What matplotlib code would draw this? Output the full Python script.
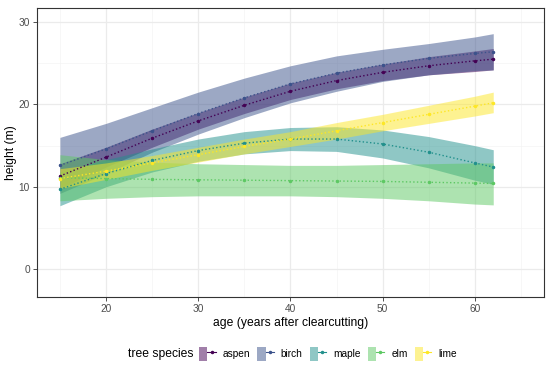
import matplotlib
matplotlib.use("Agg")
import matplotlib.pyplot as plt
from matplotlib.patches import Patch
from matplotlib.lines import Line2D
from matplotlib.legend_handler import HandlerTuple

plt.rcParams['font.family'] = ['Liberation Sans', 'DejaVu Sans']

# values
ages = [15, 20, 25, 30, 35, 40, 45, 50, 55, 60, 62]
species = ['aspen', 'birch', 'maple', 'elm', 'lime']
colors = ['#440154', '#3B528B', '#21908C', '#5DC863', '#FDE725']

aspen_fit = [11.3, 13.6, 15.9, 18.0, 19.9, 21.6, 22.9, 23.9, 24.7, 25.3, 25.5]
aspen_lo = [9.8, 12.4, 14.8, 17.0, 18.9, 20.6, 21.9, 22.9, 23.6, 24.0, 24.2]
aspen_hi = [12.8, 14.8, 17.0, 19.0, 20.9, 22.6, 23.9, 24.9, 25.8, 26.5, 26.8]

birch_fit = [12.6, 14.6, 16.8, 18.9, 20.8, 22.5, 23.8, 24.8, 25.6, 26.2, 26.4]
birch_lo = [9.2, 11.6, 14.2, 16.4, 18.4, 20.2, 21.6, 22.8, 23.6, 24.1, 24.2]
birch_hi = [16.0, 17.7, 19.6, 21.5, 23.2, 24.7, 25.9, 26.7, 27.4, 28.2, 28.6]

maple_fit = [9.7, 11.6, 13.2, 14.4, 15.3, 15.8, 15.8, 15.2, 14.2, 12.9, 12.4]
maple_lo = [7.7, 10.0, 11.8, 13.1, 14.0, 14.4, 14.3, 13.5, 12.3, 10.8, 10.3]
maple_hi = [11.8, 13.3, 14.6, 15.8, 16.7, 17.2, 17.3, 16.9, 16.1, 15.0, 14.5]

elm_fit = [11.1, 11.0, 10.9, 10.85, 10.8, 10.75, 10.7, 10.65, 10.55, 10.45, 10.4]
elm_lo = [8.3, 8.6, 8.8, 8.9, 8.9, 8.9, 8.8, 8.6, 8.3, 7.9, 7.8]
elm_hi = [13.9, 13.3, 13.0, 12.8, 12.7, 12.6, 12.6, 12.7, 12.8, 12.9, 12.9]

lime_fit = [11.0, 11.9, 12.9, 13.9, 14.9, 15.8, 16.8, 17.8, 18.8, 19.8, 20.2]
lime_lo = [9.8, 10.9, 12.0, 13.0, 14.0, 14.9, 15.8, 16.8, 17.7, 18.6, 19.0]
lime_hi = [12.2, 12.9, 13.8, 14.8, 15.8, 16.7, 17.8, 18.8, 19.9, 21.0, 21.5]

fits = [aspen_fit, birch_fit, maple_fit, elm_fit, lime_fit]
lows = [aspen_lo, birch_lo, maple_lo, elm_lo, lime_lo]
highs = [aspen_hi, birch_hi, maple_hi, elm_hi, lime_hi]

fig = plt.figure(figsize=(5.5, 3.7), dpi=100)
ax = fig.add_axes([0.067, 0.197, 0.922, 0.781])

# confidence ribbons
for lo, hi, c in zip(lows, highs, colors):
    ax.fill_between(ages, lo, hi, color=c, alpha=0.5, linewidth=0, zorder=2)

# fitted lines
for fit, c in zip(fits, colors):
    ax.plot(ages, fit, color=c, linestyle=':', linewidth=1.0, marker='o',
            markersize=1.5, zorder=3)

ax.set_xticks([20, 30, 40, 50, 60])
ax.set_yticks([0, 10, 20, 30])
ax.set_xticks([15, 25, 35, 45, 55, 65], minor=True)
ax.set_yticks([5, 15, 25], minor=True)
ax.set_xlim(12.5, 67.5)
ax.set_ylim(-3.4, 31.7)
ax.grid(True, which='major', color='#EBEBEB', linewidth=0.9, zorder=0)
ax.grid(True, which='minor', color='#F4F4F4', linewidth=0.5, zorder=0)
ax.set_axisbelow(True)
ax.tick_params(which='minor', length=0)
ax.tick_params(which='major', length=3, color='#333333', labelsize=7.3,
               labelcolor='#4D4D4D', width=0.6, pad=2)
for s in ax.spines.values():
    s.set_color('#333333')
    s.set_linewidth(0.8)

ax.set_xlabel('age (years after clearcutting)', fontsize=8.7)
ax.set_ylabel('height (m)', fontsize=8.7)
ax.xaxis.set_label_coords(0.5, -0.068)
ax.yaxis.set_label_coords(-0.039, 0.5)

# legend at the bottom
handles = []
for c in colors:
    patch = Patch(facecolor=c, alpha=0.5, edgecolor='none')
    line = Line2D([], [], color=c, linestyle='-', linewidth=0.8, marker='o', markersize=1.5)
    handles.append((patch, line))
fig.text(0.233, 0.043, 'tree species', fontsize=8.7, va='center', ha='left')
fig.legend(handles, species, handler_map={tuple: HandlerTuple(ndivide=None, pad=0)},
           loc='center left', bbox_to_anchor=(0.362, 0.043), ncol=5, frameon=False,
           fontsize=7.3, handlelength=1.65, handleheight=1.65, handletextpad=0.68,
           columnspacing=0.68, borderpad=0, borderaxespad=0)

fig.savefig('out.png', dpi=100)
